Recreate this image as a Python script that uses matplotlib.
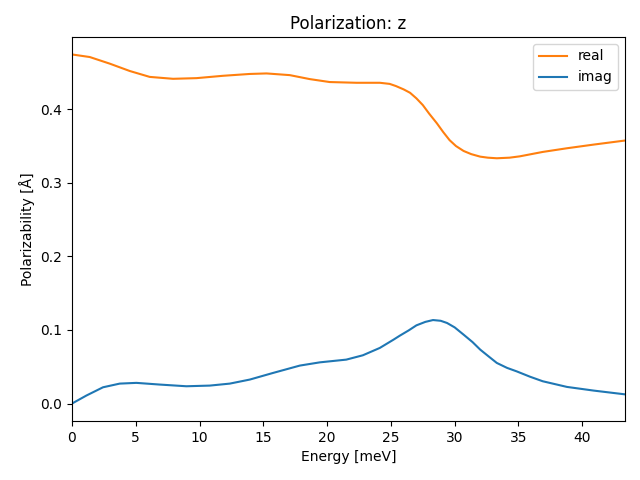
import matplotlib
matplotlib.use("Agg")
import matplotlib.pyplot as plt

energy_real = [0.0, 1.39, 2.96, 4.53, 6.09, 7.92, 9.76, 11.84, 13.94, 15.25, 17.07, 18.64,
               20.2, 22.3, 24.13, 24.9, 25.4, 26.0, 26.5, 27.0, 27.5, 28.0, 28.6, 29.1, 29.6,
               30.1, 30.7, 31.3, 32.0, 32.6, 33.3, 34.3, 35.1, 36.9, 38.8, 40.9, 43.35]
real = [0.4745, 0.471, 0.462, 0.452, 0.444, 0.4414, 0.4423, 0.4455, 0.448, 0.4487, 0.4464, 0.441,
        0.437, 0.436, 0.436, 0.4345, 0.4315, 0.427, 0.4224, 0.4148, 0.4057, 0.394, 0.381, 0.369, 0.358,
        0.350, 0.3433, 0.339, 0.3356, 0.3342, 0.3334, 0.3342, 0.336, 0.342, 0.347, 0.352, 0.3575]

energy_imag = [0.0, 1.13, 2.43, 3.74, 5.05, 6.88, 8.97, 10.8, 12.37, 13.94, 15.76, 17.86,
               19.43, 21.5, 22.8, 24.13, 25.2, 25.7, 26.4, 27.0, 27.7, 28.3, 28.9, 29.4, 30.0,
               30.7, 31.4, 32.0, 32.7, 33.3, 34.1, 34.85, 35.9, 36.9, 38.8, 40.9, 43.35]
imag = [0.0, 0.0109, 0.0221, 0.0271, 0.0281, 0.0258, 0.0235, 0.0244, 0.0271, 0.0326, 0.0416, 0.0516,
        0.056, 0.0597, 0.0656, 0.0756, 0.0868, 0.0923, 0.0995, 0.1063, 0.111, 0.1135, 0.1125, 0.1095, 0.1035,
        0.0936, 0.0835, 0.0733, 0.0635, 0.0552, 0.0485, 0.0438, 0.0365, 0.0303, 0.0226, 0.0176, 0.0125]

fig, ax = plt.subplots(figsize=(6.4, 4.8), dpi=100)
ax.plot(energy_real, real, color="#ff7f0e", label="real")
ax.plot(energy_imag, imag, color="#1f77b4", label="imag")
ax.set_xlim(0, 43.35)
ax.set_xlabel("Energy [meV]")
ax.set_ylabel("Polarizability [Å]")
ax.set_title("Polarization: z")
ax.legend(loc="upper right")
fig.subplots_adjust(left=72/640, right=625/640, top=1-37/480, bottom=1-421/480)
fig.savefig("out.png")
